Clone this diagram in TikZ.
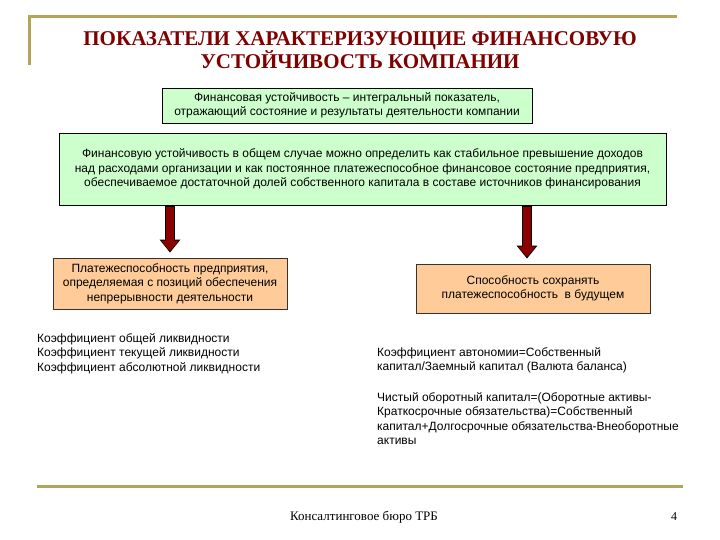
\documentclass[tikz,border=0pt]{standalone}
\usepackage{fontspec}
\setmainfont{Liberation Serif}
\setsansfont{Liberation Sans}
\usetikzlibrary{arrows.meta}

\definecolor{gold}{RGB}{178,164,90}
\definecolor{titlered}{RGB}{128,0,0}
\definecolor{boxgreen}{RGB}{204,255,204}
\definecolor{boxorange}{RGB}{255,204,153}
\definecolor{arrowred}{RGB}{140,0,0}

\begin{document}
\begin{tikzpicture}[x=1pt,y=-1pt,
          goldrule/.style={draw=gold,line width=3pt},
          heading/.style={text=titlered,font=\fontsize{21}{23}\selectfont\bfseries,align=center,inner sep=0pt},
          body/.style={font=\sffamily\fontsize{12}{14.5}\selectfont},
          greenbox/.style={body,fill=boxgreen,draw=black,thick,align=center,inner sep=0pt},
          orangebox/.style={body,fill=boxorange,draw=black!80,thick,align=center,inner sep=0pt},
          listtext/.style={body,align=left,inner sep=0pt,anchor=north west},
          fatedge/.style={draw=black,line width=10pt,-{Triangle[width=20pt,length=13pt]},shorten <=1pt,shorten >=5pt},
          fat/.style={draw=arrowred,line width=8pt,-{Triangle[width=17pt,length=10.5pt]},shorten <=2pt,shorten >=6.5pt},
        ]

        \fill[white] (0,0) rectangle (720,540);
        \useasboundingbox (0,0) rectangle (720,540);

        \draw[goldrule] (29,65) -- (29,17) -- (677,17);
        \draw[goldrule] (37,486) -- (683,486);

        \node[heading] (head) at (360,50) {ПОКАЗАТЕЛИ ХАРАКТЕРИЗУЮЩИЕ ФИНАНСОВУЮ\\УСТОЙЧИВОСТЬ КОМПАНИИ};

        \node[greenbox,minimum width=370pt,minimum height=35pt] (def) at (347,105.5) {Финансовая устойчивость – интегральный показатель,\\отражающий состояние и результаты деятельности компании};
        \node[greenbox,minimum width=607pt,minimum height=72pt] (main) at (362.5,169) {Финансовую устойчивость в общем случае можно определить как стабильное превышение доходов\\над расходами организации и как постоянное платежеспособное финансовое состояние предприятия,\\обеспечиваемое достаточной долей собственного капитала в составе источников финансирования};
        \node[orangebox,minimum width=234pt,minimum height=51pt] (solv) at (170,283.5) {Платежеспособность предприятия,\\определяемая с позиций обеспечения\\непрерывности деятельности};
        \node[orangebox,minimum width=234pt,minimum height=49pt] (fut) at (533,288.5) {Способность сохранять\\платежеспособность \ в будущем};

        \draw[fatedge] (main.south -| solv.north) -- (solv.north);
        \draw[fat] (main.south -| solv.north) -- (solv.north);
        \draw[fatedge] ([xshift=-6pt]fut.north |- main.south) -- ([xshift=-6pt]fut.north);
        \draw[fat] ([xshift=-6pt]fut.north |- main.south) -- ([xshift=-6pt]fut.north);

        \node[listtext] (liq) at (37,333) {Коэффициент общей ликвидности\\Коэффициент текущей ликвидности\\Коэффициент абсолютной ликвидности};
        \node[listtext] (auto) at (377,347) {Коэффициент автономии=Собственный\\капитал/Заемный капитал (Валюта баланса)};
        \node[listtext] (net) at (377,392) {Чистый оборотный капитал=(Оборотные активы-\\Краткосрочные обязательства)=Собственный\\капитал+Долгосрочные обязательства-Внеоборотные\\активы};

        \node[font=\fontsize{13}{15}\selectfont] (firm) at (364,517) {Консалтинговое бюро ТРБ};
        \node[font=\fontsize{12}{14}\selectfont] (page) at (674,517) {4};

      \end{tikzpicture}
\end{document}
